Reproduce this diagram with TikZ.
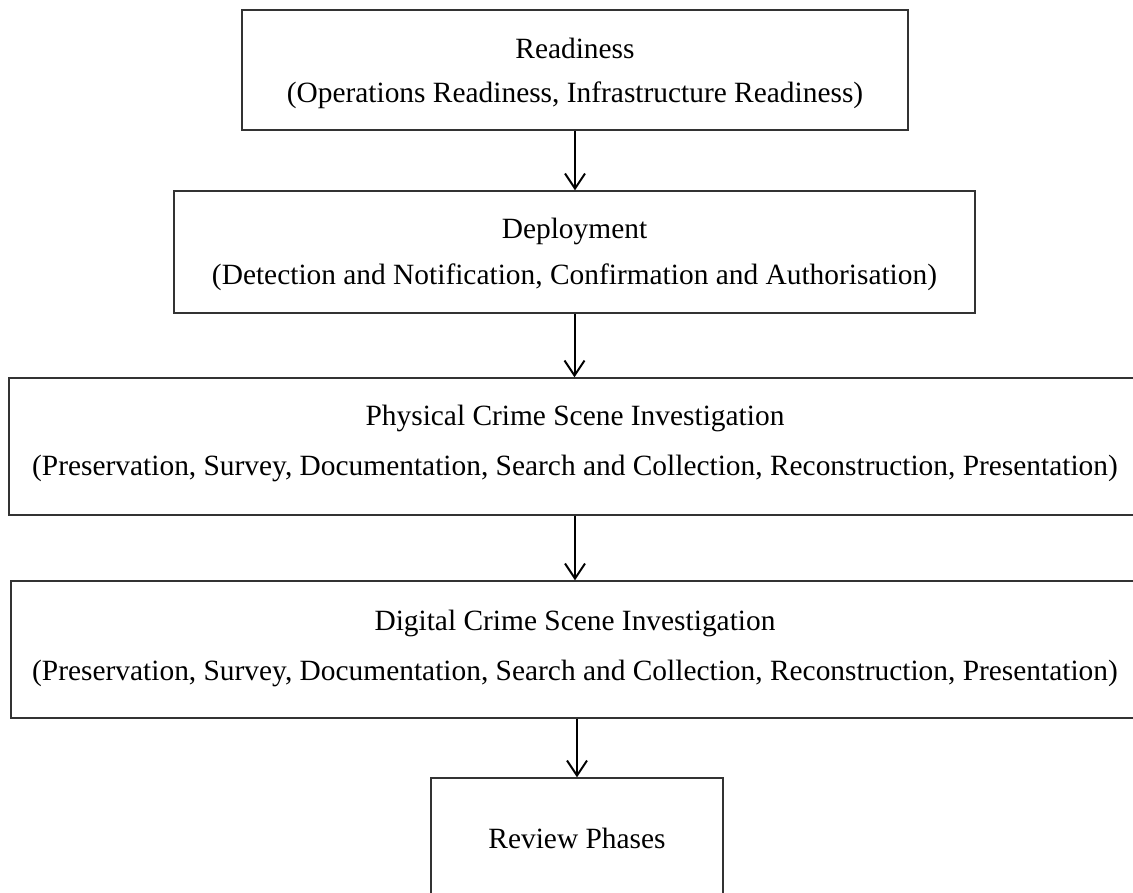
\documentclass[tikz,border=0pt]{standalone}
\usepackage{fontspec}
\setmainfont{Liberation Serif}
\usetikzlibrary{arrows.meta}

\tikzset{
  phase/.style={draw=black!80, line width=1.3pt, rectangle, inner sep=0pt},
  phasetext/.style={align=center, inner sep=0pt, text=black},
  lines/.style={font=\fontsize{29.4}{#1}\selectfont},
  flow/.style={draw=black, line width=2pt,
    -{Straight Barb[length=15pt,width=20pt,line width=2pt]}}
}

\begin{document}
\begin{tikzpicture}[x=1pt, y=-1pt]
  \useasboundingbox (0,0) rectangle (1133,893);
  \clip (0,0) rectangle (1133,893);

  \node[phase, minimum width=666pt, minimum height=120pt,
    label={[phasetext, lines=44, yshift=-3pt]center:Readiness\\(Operations Readiness, Infrastructure Readiness)}]
    (ready) at (575,70) {};
  \node[phase, minimum width=801pt, minimum height=122pt,
    label={[phasetext, lines=46, yshift=-2.5pt]center:Deployment\\(Detection and Notification, Confirmation and Authorisation)}]
    (deploy) at (574.5,252) {};
  \node[phase, minimum width=1132pt, minimum height=137pt,
    label={[phasetext, lines=50, yshift=3pt]center:Physical Crime Scene Investigation\\(Preservation, Survey, Documentation, Search and Collection, Reconstruction, Presentation)}]
    (phys) at (575,446.5) {};
  \node[phase, minimum width=1128pt, minimum height=137pt,
    label={[phasetext, lines=50, yshift=1pt]center:Digital Crime Scene Investigation\\(Preservation, Survey, Documentation, Search and Collection, Reconstruction, Presentation)}]
    (dig) at (575,649.5) {};
  \node[phase, minimum width=292pt, minimum height=120pt,
    label={[phasetext, lines=46]center:Review Phases}]
    (review) at (577,838) {};

  \draw[flow] (ready.south) -- (ready.south |- deploy.north);
  \draw[flow] (deploy.south) -- (deploy.south |- phys.north);
  \draw[flow] (phys.south) -- (phys.south |- dig.north);
  \draw[flow] (review.north |- dig.south) -- (review.north);
\end{tikzpicture}
\end{document}
